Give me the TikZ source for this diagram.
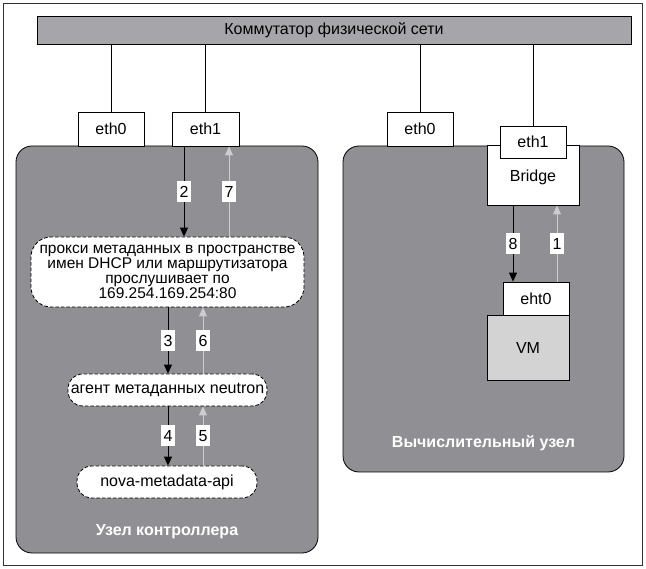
\documentclass[tikz,border=0pt]{standalone}
\usepackage{fontspec}
\setmainfont{Liberation Sans}
\usetikzlibrary{arrows.meta,calc}
\definecolor{nodegray}{RGB}{143,143,148}
\definecolor{bargray}{RGB}{166,166,170}
\definecolor{vmgray}{RGB}{211,211,211}
\definecolor{retgray}{RGB}{205,205,205}
\begin{document}
\begin{tikzpicture}[x=1pt,y=-1pt,
  every node/.style={font=\fontsize{16}{16}\selectfont, inner sep=0pt},
  ifbox/.style={draw=black, fill=white, line width=0.8pt, minimum width=66pt, minimum height=34pt},
  hostbox/.style={draw=black, fill=nodegray, line width=0.8pt, rounded corners=16pt},
  pill/.style={draw=black, dashed, dash pattern=on 3.5pt off 2pt, fill=white, line width=0.8pt, align=center},
  fwd/.style={draw=black, line width=0.9pt, -{Triangle[width=8pt,length=9pt]}},
  back/.style={draw=retgray, line width=0.9pt, -{Triangle[width=8pt,length=9pt]}},
  num/.style={fill=white, inner sep=1.5pt, minimum width=14pt, minimum height=21pt},
  title/.style={text=white, font=\fontsize{16}{16}\selectfont\bfseries}
]
\useasboundingbox (0,0) rectangle (646,569);
% outer frame
\draw[line width=0.8pt, draw=black!80] (3,3) rectangle (642,565);
% switch
\node[draw=black, fill=bargray, line width=0.8pt, minimum width=594pt, minimum height=28pt, font=\fontsize{16}{16}\selectfont] (sw) at (334,30) {Коммутатор физической сети};
% host backgrounds
\node[hostbox, minimum width=302pt, minimum height=407pt] (ctrl) at (167,349.5) {};
\node[hostbox, minimum width=281pt, minimum height=326pt] (comp) at (483.5,309) {};
\node[title] (ctrlT) at (167,532) {Узел контроллера};
\node[title] (compT) at (483.5,443) {Вычислительный узел};
% interfaces
\node[ifbox] (e0L) at (111,129) {eth0};
\node[ifbox, minimum width=67pt] (e1L) at (205.5,129) {eth1};
\node[ifbox] (e0R) at (420,129) {eth0};
\node[draw=black, fill=white, line width=0.8pt, minimum width=92pt, minimum height=60pt] (br) at (533,175) {};
\node (brT) at (533,177) {Bridge};
\node[ifbox, minimum height=32pt] (e1R) at (533,142) {eth1};
\node[draw=black, fill=vmgray, line width=0.8pt, minimum width=82pt, minimum height=65pt] (vm) at (528,347.5) {VM};
\node[ifbox, minimum height=33pt] (eht) at (536,298.5) {eht0};
% switch links
\draw[line width=0.8pt] (sw.south -| e0L.north) -- (e0L.north);
\draw[line width=0.8pt] (sw.south -| e1L.north) -- (e1L.north);
\draw[line width=0.8pt] (sw.south -| e0R.north) -- (e0R.north);
\draw[line width=0.8pt] (sw.south -| e1R.north) -- (e1R.north);
% controller services
\node[pill, rounded corners=20pt, minimum width=273pt, minimum height=70pt, font=\fontsize{15.5}{15}\selectfont] (proxy) at (167.5,272) {прокси метаданных в пространстве\\имен DHCP или маршрутизатора\\прослушивает по\\169.254.169.254:80};
\node[pill, rounded corners=15pt, minimum width=199pt, minimum height=32pt] (agent) at (167.5,390) {агент метаданных neutron};
\node[pill, rounded corners=15pt, minimum width=180pt, minimum height=32pt] (nova) at (167,482) {nova-metadata-api};
% controller arrows
\draw[fwd] ([xshift=-21.5pt]e1L.south) -- ([xshift=-21.5pt]e1L.south |- proxy.north) coordinate[midway] (m2);
\draw[back] ([xshift=23.5pt]e1L.south |- proxy.north) -- ([xshift=23.5pt]e1L.south) coordinate[midway] (m7);
\draw[fwd] ([xshift=0.5pt]proxy.south) -- ([xshift=0.5pt]proxy.south |- agent.north) coordinate[midway] (m3);
\draw[back] ([xshift=35.5pt]proxy.south |- agent.north) -- ([xshift=35.5pt]proxy.south) coordinate[midway] (m6);
\draw[fwd] ([xshift=0.5pt]agent.south) -- ([xshift=0.5pt]agent.south |- nova.north) coordinate[midway] (m4);
\draw[back] ([xshift=35.5pt]agent.south |- nova.north) -- ([xshift=35.5pt]agent.south) coordinate[midway] (m5);
\node[num] (n2) at (m2) {2};
\node[num] (n7) at (m7) {7};
\node[num] (n3) at (m3) {3};
\node[num] (n6) at (m6) {6};
\node[num] (n4) at (m4) {4};
\node[num] (n5) at (m5) {5};
% compute arrows
\draw[fwd] ([xshift=-20pt]br.south) -- ([xshift=-20pt]br.south |- eht.north) coordinate[midway] (m8);
\draw[back] ([xshift=24pt]br.south |- eht.north) -- ([xshift=24pt]br.south) coordinate[midway] (m1);
\node[num] (n8) at (m8) {8};
\node[num] (n1) at (m1) {1};
\end{tikzpicture}
\end{document}
